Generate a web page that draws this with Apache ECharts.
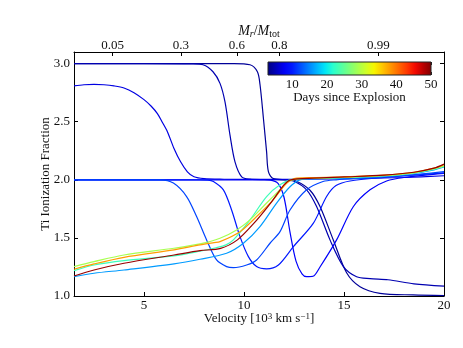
<!DOCTYPE html>
<html>
<head>
<meta charset="utf-8">
<script src="https://cdn.jsdelivr.net/npm/echarts@6/dist/echarts.min.js"></script>
<style>
  html, body { margin: 0; padding: 0; background: #fff; }
  #chart { width: 463px; height: 348px; }
</style>
</head>
<body>
<div id="chart"></div>
<script>
// axis ticks
const velTicks = [5, 10, 15, 20];
const massLabels = ["0.05", "0.3", "0.6", "0.8", "0.99"];
const massVel = [3.43, 6.84, 9.64, 11.77, 16.72]; // velocity where each M_r/M_tot label sits
const dayTicks = [10, 20, 30, 40, 50];
const dayRange = [3, 50];

// [velocity, ionization] per epoch
const day4 = [[1.5,3.0],[6,3.0],[9.5,3.0],[10.3,2.99],[10.67,2.93],[10.8,2.82],[10.97,2.53],[11.13,2.24],[11.22,2.07],[11.47,2.01],[12.15,2.0],[12.6,1.99],[13.3,1.91],[13.8,1.77],[14.47,1.48],[15.13,1.2],[15.8,1.08],[16.8,1.023],[18.45,1.009],[20,1.004]];
const day5 = [[1.5,3.0],[5,3.0],[7.4,2.998],[7.95,2.99],[8.45,2.93],[8.8,2.83],[9.05,2.67],[9.3,2.385],[9.55,2.155],[9.885,2.026],[10.3,2.006],[11,2.002],[12.0,2.0],[12.47,1.99],[13.13,1.914],[13.63,1.77],[14.3,1.483],[14.97,1.253],[15.63,1.166],[16.3,1.15],[17.2,1.14],[18.5,1.105],[20,1.085]];
const day7 = [[1.5,2.808],[2.0,2.818],[2.5,2.822],[3.0,2.818],[3.5,2.808],[4.0,2.79],[4.5,2.75],[5.0,2.69],[5.35,2.635],[5.67,2.57],[5.9,2.5],[6.17,2.414],[6.5,2.27],[6.83,2.155],[7.17,2.069],[7.5,2.026],[8.0,2.01],[9,2.005],[10,2.004],[13,2.005],[16,2.012],[18,2.02],[20,2.035]];
const day8 = [[1.5,2.0],[6,2.0],[11.0,2.0],[11.3,1.998],[11.7,1.97],[12.0,1.85],[12.3,1.55],[12.6,1.3],[12.9,1.19],[13.13,1.166],[13.45,1.17],[13.8,1.25],[14.63,1.483],[15.47,1.77],[16.3,1.914],[17.13,1.99],[18,2.02],[20,2.055]];
const day10 = [[1.5,2.0],[5,2.0],[7.8,2.0],[8.2,1.998],[8.47,1.985],[8.97,1.914],[9.38,1.74],[9.8,1.511],[10.22,1.339],[10.63,1.253],[11.13,1.233],[11.72,1.267],[12.47,1.425],[13.47,1.627],[14.13,1.856],[14.6,1.95],[15.3,1.99],[17,2.02],[20,2.06]];
const day12 = [[1.5,2.0],[4,2.0],[5.8,2.0],[6.47,1.972],[7.13,1.856],[7.63,1.684],[8.13,1.483],[8.63,1.31],[9.13,1.253],[9.47,1.244],[10.13,1.267],[10.63,1.31],[11.3,1.454],[11.8,1.554],[12.3,1.74],[13.13,1.914],[13.95,1.985],[14.6,2.0],[16,2.015],[18,2.035],[20,2.07]];
const day16 = [[1.5,1.167],[2.5,1.196],[4,1.224],[6.5,1.276],[7.8,1.316],[9.13,1.368],[9.97,1.454],[10.8,1.598],[11.63,1.8],[12.3,1.94],[12.8,2.0],[13.5,2.008],[15,2.015],[17,2.03],[18.5,2.055],[19.5,2.085],[20,2.11]];
const day23 = [[1.5,1.218],[2.5,1.267],[4,1.305],[6.5,1.345],[7.8,1.385],[8.6,1.415],[9.1,1.44],[9.47,1.483],[10.3,1.655],[11.13,1.856],[11.8,1.957],[12.47,2.006],[13.5,2.012],[15,2.02],[17,2.035],[18.5,2.06],[19.5,2.09],[20,2.115]];
const day29 = [[1.5,1.253],[2.5,1.296],[4,1.353],[6.5,1.411],[7.8,1.448],[8.8,1.497],[9.63,1.569],[10.3,1.655],[11.13,1.8],[11.8,1.914],[12.22,1.985],[12.63,2.006],[13.5,2.012],[15,2.02],[17,2.035],[18.5,2.06],[19.5,2.095],[20,2.12]];
const day38 = [[1.5,1.23],[2.5,1.276],[4,1.333],[6.5,1.397],[7.8,1.44],[8.5,1.46],[8.8,1.468],[9.8,1.554],[10.63,1.684],[11.47,1.83],[12.13,1.97],[12.63,2.015],[13.5,2.02],[15,2.025],[17,2.04],[18.5,2.065],[19.5,2.1],[20,2.13]];
const day49 = [[1.5,1.172],[2.5,1.224],[4,1.282],[6.5,1.353],[7.8,1.39],[8.83,1.41],[9.67,1.483],[10.5,1.627],[11.33,1.8],[12.0,1.957],[12.33,2.0],[13.5,2.015],[15,2.025],[17,2.04],[18.5,2.065],[19.5,2.1],[20,2.135]];

const curveDays = [4, 5, 7, 8, 10, 12, 16, 23, 29, 38, 49];
const curves = [day4, day5, day7, day8, day10, day12, day16, day23, day29, day38, day49];

// matplotlib-like jet colour map
function seg(pts, t) {
  for (let i = 1; i < pts.length; i++) {
    if (t <= pts[i][0]) {
      const a = pts[i - 1], b = pts[i];
      return a[1] + (b[1] - a[1]) * (t - a[0]) / (b[0] - a[0]);
    }
  }
  return pts[pts.length - 1][1];
}
function jet(t) {
  const r = seg([[0,0],[0.35,0],[0.66,1],[0.89,1],[1,0.5]], t);
  const g = seg([[0,0],[0.125,0],[0.375,1],[0.64,1],[0.91,0],[1,0]], t);
  const b = seg([[0,0.5],[0.11,1],[0.34,1],[0.65,0],[1,0]], t);
  const c = v => Math.round(255 * Math.max(0, Math.min(1, v)));
  return 'rgb(' + c(r) + ',' + c(g) + ',' + c(b) + ')';
}
const dayColor = d => jet((d - dayRange[0]) / (dayRange[1] - dayRange[0]));

const font = '"Liberation Serif", "DejaVu Serif", serif';
const txt = '#111';

const jetStops = [];
for (let i = 0; i <= 20; i++) jetStops.push({ offset: i / 20, color: jet(i / 20) });

const lineSeries = curves.map((c, i) => ({
  type: 'line',
  xAxisIndex: 0,
  yAxisIndex: 0,
  data: c,
  showSymbol: false,
  smooth: 0.3,
  lineStyle: { width: 1.2, color: dayColor(curveDays[i]) },
  z: 2 + i
}));

const chart = echarts.init(document.getElementById('chart'));
chart.setOption({
  animation: false,
  grid: [
    { left: 74, right: 19, top: 52, bottom: 52 },
    { left: 268, top: 62, width: 163, height: 13 }
  ],
  xAxis: [
    {
      gridIndex: 0, type: 'value', position: 'bottom', min: 1.5, max: 20,
      axisLine: { lineStyle: { color: '#000', width: 1 } },
      axisTick: { inside: true, length: 4, customValues: velTicks, lineStyle: { color: '#000' } },
      axisLabel: { customValues: velTicks, margin: 3, color: txt, fontFamily: font, fontSize: 13 },
      splitLine: { show: false },
      name: 'Velocity [10{sup|3} km s{sup|\u22121}]',
      nameLocation: 'middle', nameGap: 16, nameMoveOverlap: false,
      nameTextStyle: {
        color: txt, fontFamily: font, fontSize: 13,
        rich: { sup: { fontSize: 9, fontFamily: font, color: txt, verticalAlign: 'top', lineHeight: 9 } }
      }
    },
    {
      gridIndex: 0, type: 'value', position: 'top', min: 1.5, max: 20,
      axisLine: { lineStyle: { color: '#000', width: 1 } },
      axisTick: { inside: true, length: 4, customValues: massVel, lineStyle: { color: '#000' } },
      axisLabel: {
        customValues: massVel, margin: 0, color: txt, fontFamily: font, fontSize: 13,
        formatter: v => massLabels[massVel.indexOf(v)]
      },
      splitLine: { show: false },
      name: '{it|M}{subi|r}/{it|M}{sub|tot}',
      nameLocation: 'middle', nameGap: 13, nameMoveOverlap: false,
      nameTextStyle: {
        color: txt, fontFamily: font, fontSize: 14,
        rich: {
          it: { fontStyle: 'italic', fontSize: 14, fontFamily: font, color: txt, lineHeight: 16 },
          subi: { fontSize: 10, fontStyle: 'italic', fontFamily: font, color: txt, verticalAlign: 'bottom', lineHeight: 8 },
          sub: { fontSize: 10, fontFamily: font, color: txt, verticalAlign: 'bottom', lineHeight: 8 }
        }
      }
    },
    {
      gridIndex: 1, type: 'value', position: 'bottom', min: dayRange[0], max: dayRange[1],
      axisLine: { show: false },
      axisTick: { inside: true, length: 3, customValues: dayTicks, lineStyle: { color: '#222' } },
      axisLabel: { customValues: dayTicks, margin: 3, color: txt, fontFamily: font, fontSize: 13 },
      splitLine: { show: false },
      name: 'Days since Explosion',
      nameLocation: 'middle', nameGap: 16, nameMoveOverlap: false,
      nameTextStyle: { color: txt, fontFamily: font, fontSize: 13 }
    },
    {
      gridIndex: 1, type: 'value', position: 'top', min: dayRange[0], max: dayRange[1],
      axisLine: { show: false },
      axisTick: { inside: true, length: 3, customValues: dayTicks, lineStyle: { color: '#222' } },
      axisLabel: { show: false },
      splitLine: { show: false }
    }
  ],
  yAxis: [
    {
      gridIndex: 0, type: 'value', position: 'left', min: 1.0, max: 3.1, interval: 0.5,
      axisLine: { show: true, lineStyle: { color: '#000', width: 1 } },
      axisTick: { show: true, inside: true, length: 4, lineStyle: { color: '#000' } },
      axisLabel: { margin: 4, color: txt, fontFamily: font, fontSize: 13, showMaxLabel: false, formatter: v => v.toFixed(1) },
      splitLine: { show: false },
      name: 'Ti Ionization Fraction',
      nameLocation: 'middle', nameGap: 22, nameRotate: 90, nameMoveOverlap: false,
      nameTextStyle: { color: txt, fontFamily: font, fontSize: 13 }
    },
    {
      gridIndex: 0, type: 'value', position: 'right', min: 1.0, max: 3.1, interval: 0.5,
      axisLine: { show: true, lineStyle: { color: '#000', width: 1 } },
      axisTick: { show: true, inside: true, length: 4, lineStyle: { color: '#000' } },
      axisLabel: { show: false },
      splitLine: { show: false }
    },
    {
      gridIndex: 1, type: 'value', min: 0, max: 1, show: false
    }
  ],
  series: lineSeries.concat([{
    type: 'custom',
    xAxisIndex: 2,
    yAxisIndex: 2,
    data: [dayRange],
    encode: { x: [0, 1] },
    silent: true,
    z: 20,
    renderItem: (params, api) => {
      const p0 = api.coord([api.value(0), 1]);
      const p1 = api.coord([api.value(1), 0]);
      return {
        type: 'rect',
        shape: { x: p0[0], y: p0[1], width: p1[0] - p0[0], height: p1[1] - p0[1] },
        style: { fill: new echarts.graphic.LinearGradient(0, 0, 1, 0, jetStops), stroke: '#222', lineWidth: 1 }
      };
    }
  }])
});
</script>
</body>
</html>
